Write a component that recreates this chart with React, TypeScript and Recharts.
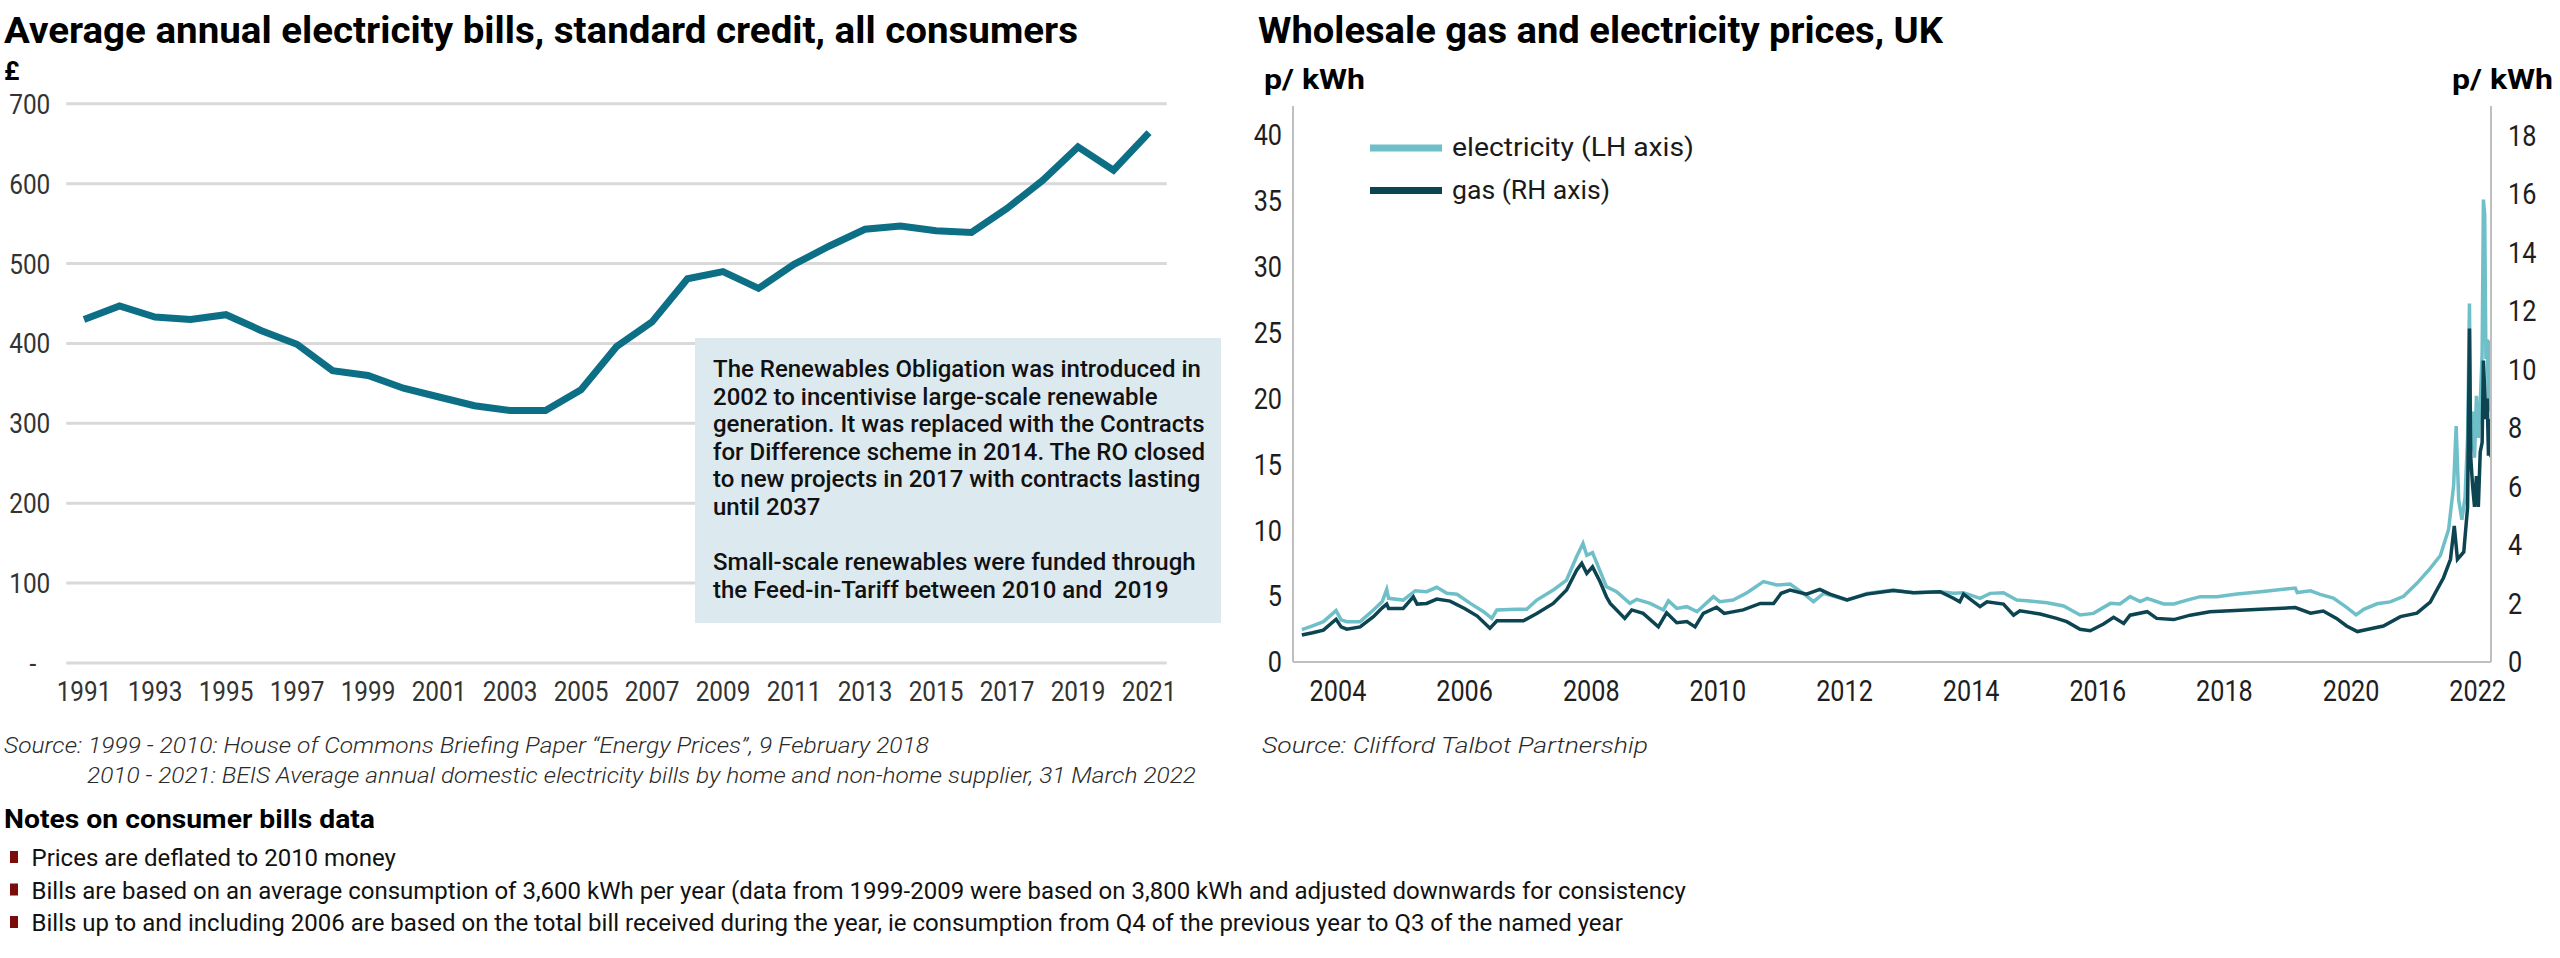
import React from 'react';
import { LineChart, Line, XAxis, YAxis, CartesianGrid, Legend } from 'recharts';

// ---------- Average annual electricity bills (£, 2010 money) ----------
const billYears = [
  1991, 1992, 1993, 1994, 1995, 1996, 1997, 1998, 1999, 2000, 2001, 2002, 2003, 2004, 2005, 2006,
  2007, 2008, 2009, 2010, 2011, 2012, 2013, 2014, 2015, 2016, 2017, 2018, 2019, 2020, 2021,
];
const billValues = [
  430, 447, 433, 430, 436, 416, 399, 366, 360, 344, 333, 322, 316, 316, 342, 396,
  427, 481, 490, 469, 499, 522, 543, 547, 541, 539, 569, 604, 646, 617, 664,
];
const billYTicks = [0, 100, 200, 300, 400, 500, 600, 700];
const billXTicks = [1991, 1993, 1995, 1997, 1999, 2001, 2003, 2005, 2007, 2009, 2011, 2013, 2015, 2017, 2019, 2021];

// ---------- Wholesale prices (p/kWh) ----------
const elecTimes = [
  2003.43, 2003.6, 2003.77, 2003.97, 2004.05, 2004.14, 2004.35, 2004.56, 2004.7, 2004.77, 2004.8,
  2005.03, 2005.22, 2005.4, 2005.56, 2005.72, 2005.88, 2006.09, 2006.3, 2006.43, 2006.51, 2006.82,
  2006.98, 2007.14, 2007.4, 2007.61, 2007.77, 2007.87, 2007.93, 2008.02, 2008.14, 2008.24, 2008.4,
  2008.61, 2008.72, 2008.93, 2009.14, 2009.22, 2009.35, 2009.51, 2009.67, 2009.93, 2010.03, 2010.24,
  2010.46, 2010.72, 2010.93, 2011.14, 2011.35, 2011.51, 2011.67, 2012.04, 2012.35, 2012.77, 2013.09,
  2013.51, 2013.72, 2013.88, 2014.14, 2014.3, 2014.51, 2014.72, 2014.93, 2015.2, 2015.46, 2015.72,
  2015.93, 2016.2, 2016.35, 2016.51, 2016.67, 2016.78, 2017.04, 2017.2, 2017.41, 2017.62, 2017.88,
  2018.2, 2018.57, 2019.12, 2019.15, 2019.36, 2019.51, 2019.72, 2019.93, 2020.08, 2020.2, 2020.41,
  2020.62, 2020.83, 2021.04, 2021.25, 2021.41, 2021.54, 2021.62, 2021.66, 2021.7, 2021.75, 2021.8,
  2021.84, 2021.87, 2021.89, 2021.92, 2021.95, 2021.98, 2022.01, 2022.04, 2022.07, 2022.09, 2022.11,
  2022.13, 2022.15, 2022.17, 2022.19, 2022.21,
];
const elecPrices = [
  2.45, 2.75, 3.06, 3.9, 3.2, 3.06, 3.06, 3.95, 4.6, 5.5, 4.83,
  4.7, 5.41, 5.34, 5.67, 5.21, 5.14, 4.45, 3.82, 3.31, 3.95, 4.0,
  4.0, 4.7, 5.46, 6.22, 8.0, 9.0, 8.1, 8.3, 6.9, 5.72, 5.34,
  4.45, 4.76, 4.45, 3.95, 4.65, 4.07, 4.2, 3.82, 4.96, 4.58, 4.7,
  5.26, 6.1, 5.84, 5.92, 5.21, 4.58, 5.21, 4.7, 5.21, 5.46, 5.26,
  5.34, 5.21, 5.26, 4.83, 5.21, 5.26, 4.7, 4.63, 4.5, 4.25, 3.57,
  3.69, 4.45, 4.4, 4.96, 4.58, 4.83, 4.4, 4.4, 4.7, 4.96, 4.96,
  5.16, 5.34, 5.61, 5.27, 5.4, 5.13, 4.85, 4.15, 3.58, 4.0, 4.42,
  4.56, 4.99, 5.97, 7.1, 8.08, 10.05, 13.4, 17.9, 12.3, 10.8, 12.5,
  17.0, 27.2, 16.0, 19.0, 15.5, 20.2, 17.0, 19.6, 23.4, 35.1, 34.0,
  23.0, 24.5, 19.2, 24.4, 19.0,
];

const gasTimes = [
  2003.43, 2003.6, 2003.77, 2003.97, 2004.05, 2004.14, 2004.35, 2004.56, 2004.7, 2004.77, 2004.8,
  2005.03, 2005.19, 2005.25, 2005.4, 2005.56, 2005.77, 2006.0, 2006.2, 2006.4, 2006.51, 2006.93,
  2007.14, 2007.4, 2007.61, 2007.77, 2007.85, 2007.93, 2008.02, 2008.14, 2008.24, 2008.3, 2008.53,
  2008.64, 2008.82, 2009.06, 2009.19, 2009.35, 2009.51, 2009.64, 2009.77, 2009.98, 2010.1, 2010.4,
  2010.67, 2010.88, 2011.0, 2011.14, 2011.4, 2011.61, 2011.77, 2012.04, 2012.35, 2012.77, 2013.09,
  2013.51, 2013.72, 2013.82, 2013.88, 2014.14, 2014.25, 2014.51, 2014.67, 2014.77, 2015.09, 2015.35,
  2015.51, 2015.72, 2015.88, 2016.09, 2016.25, 2016.41, 2016.51, 2016.78, 2016.93, 2017.2, 2017.46,
  2017.77, 2018.09, 2018.57, 2019.12, 2019.36, 2019.56, 2019.77, 2019.93, 2020.1, 2020.25, 2020.51,
  2020.78, 2021.04, 2021.25, 2021.46, 2021.57, 2021.63, 2021.68, 2021.78, 2021.84, 2021.87, 2021.89,
  2021.92, 2021.95, 2021.98, 2022.01, 2022.04, 2022.07, 2022.09, 2022.11, 2022.13, 2022.15, 2022.17,
  2022.19, 2022.21,
];
const gasPrices = [
  0.92, 1.0, 1.09, 1.46, 1.2, 1.12, 1.2, 1.55, 1.85, 1.98, 1.83,
  1.83, 2.23, 1.98, 2.0, 2.15, 2.08, 1.83, 1.57, 1.15, 1.41, 1.41,
  1.66, 2.0, 2.46, 3.14, 3.37, 3.03, 3.25, 2.74, 2.23, 2.0, 1.49,
  1.78, 1.66, 1.2, 1.68, 1.34, 1.38, 1.2, 1.66, 1.87, 1.66, 1.78,
  2.0, 2.0, 2.35, 2.46, 2.32, 2.48, 2.32, 2.12, 2.32, 2.44, 2.37,
  2.4, 2.18, 2.06, 2.32, 1.89, 2.06, 1.98, 1.6, 1.75, 1.64, 1.49,
  1.38, 1.12, 1.07, 1.3, 1.53, 1.32, 1.6, 1.72, 1.49, 1.45, 1.6,
  1.72, 1.75, 1.8, 1.86, 1.67, 1.74, 1.49, 1.23, 1.04, 1.11, 1.23,
  1.55, 1.67, 2.05, 2.88, 3.51, 4.65, 3.51, 3.76, 5.28, 11.4, 7.0,
  6.0, 5.3, 6.35, 5.3, 7.18, 7.5, 10.3, 9.3, 8.3, 9.0, 7.05,
  8.3, 7.0,
];
const priceXTicks = [2004, 2006, 2008, 2010, 2012, 2014, 2016, 2018, 2020, 2022];
const elecAxisTicks = [0, 5, 10, 15, 20, 25, 30, 35, 40];
const gasAxisTicks = [0, 2, 4, 6, 8, 10, 12, 14, 16, 18];

// ---------- Text ----------
const noteBoxLines = [
  'The Renewables Obligation was introduced in',
  '2002 to incentivise large-scale renewable',
  'generation. It was replaced with the Contracts',
  'for Difference scheme in 2014. The RO closed',
  'to new projects in 2017 with contracts lasting',
  'until 2037',
  '',
  'Small-scale renewables were funded through',
  'the Feed-in-Tariff between 2010 and  2019',
];
const billNotes = [
  'Prices are deflated to 2010 money',
  'Bills are based on an average consumption of 3,600 kWh per year (data from 1999-2009 were based on 3,800 kWh and adjusted downwards for consistency',
  'Bills up to and including 2006 are based on the total bill received during the year, ie consumption from Q4 of the previous year to Q3 of the named year',
];

const FONT = "Roboto, 'DejaVu Sans', sans-serif";
const BILL_COLOR = '#0c6f86';
const ELEC_COLOR = '#6fbfc9';
const GAS_COLOR = '#0d4452';
const GRID = '#d9d9d9';
const AXIS = '#bfbfbf';

const billRows = billYears.map((year, i) => ({ year, bill: billValues[i] }));

const priceTimes = Array.from(new Set([...elecTimes, ...gasTimes])).sort((a, b) => a - b);
const priceRows = priceTimes.map((t) => {
  const ei = elecTimes.indexOf(t);
  const gi = gasTimes.indexOf(t);
  return { t, elec: ei >= 0 ? elecPrices[ei] : null, gas: gi >= 0 ? gasPrices[gi] : null };
});

type TickProps = {
  x?: number;
  y?: number;
  payload?: { value: number };
  anchor: 'start' | 'middle' | 'end';
  top?: boolean;
  size: number;
  color: string;
  dash0?: boolean;
};

// Axis label in a slightly narrowed face
function NarrowTick({ x = 0, y = 0, payload, anchor, top, size, color, dash0 }: TickProps) {
  const v = payload ? payload.value : 0;
  const label = dash0 && v === 0 ? '-' : String(v);
  const dx = dash0 && v === 0 ? -16 : 0;
  const dy = top ? size * 0.71 : size * 0.355;
  return (
    <g transform={`translate(${x},${y}) scale(0.87,1)`}>
      <text x={dx} y={dy} textAnchor={anchor} fontSize={size} fill={color} fontFamily={FONT}>
        {label}
      </text>
    </g>
  );
}

function PriceLegend() {
  return (
    <svg width={420} height={90} style={{ display: 'block' }}>
      <line x1={0} x2={72} y1={22} y2={22} stroke={ELEC_COLOR} strokeWidth={7} />
      <text x={82} y={30} fontSize={26} fontFamily={FONT} fill="#1a1a1a" textLength={242} lengthAdjust="spacingAndGlyphs">
        electricity (LH axis)
      </text>
      <line x1={0} x2={72} y1={64.5} y2={64.5} stroke={GAS_COLOR} strokeWidth={7} />
      <text x={82} y={72.5} fontSize={26} fontFamily={FONT} fill="#1a1a1a" textLength={158} lengthAdjust="spacingAndGlyphs">
        gas (RH axis)
      </text>
    </svg>
  );
}

export default function App() {
  return (
    <div
      style={{
        position: 'absolute',
        left: 0,
        top: 0,
        width: 2560,
        height: 958,
        background: '#ffffff',
        fontFamily: FONT,
        overflow: 'hidden',
      }}
    >
      {/* Consumer bills */}
      <div style={{ position: 'absolute', left: 0, top: 0 }}>
        <LineChart
          width={1200}
          height={720}
          data={billRows}
          margin={{ top: 103.8, right: 33.25, bottom: 7, left: 6.25 }}
        >
          <CartesianGrid horizontal vertical={false} stroke={GRID} strokeWidth={3} />
          <XAxis
            dataKey="year"
            type="number"
            domain={[1990.5, 2021.5]}
            ticks={billXTicks}
            interval={0}
            axisLine={false}
            tickLine={false}
            tickSize={0}
            tickMargin={18}
            height={50}
            tick={(p: any) => <NarrowTick {...p} anchor="middle" top size={28} color="#333333" />}
          />
          <YAxis
            type="number"
            domain={[0, 700]}
            ticks={billYTicks}
            interval={0}
            axisLine={false}
            tickLine={false}
            tickSize={0}
            tickMargin={16}
            width={60}
            tick={(p: any) => <NarrowTick {...p} anchor="end" size={28} color="#333333" dash0 />}
          />
          <Line
            type="linear"
            dataKey="bill"
            stroke={BILL_COLOR}
            strokeWidth={7}
            dot={false}
            strokeLinejoin="miter"
            isAnimationActive={false}
          />
        </LineChart>
      </div>

      {/* Wholesale prices */}
      <div style={{ position: 'absolute', left: 1240, top: 0 }}>
        <LineChart
          width={1320}
          height={720}
          data={priceRows}
          margin={{ top: 106, right: 9, bottom: 8, left: 3 }}
        >
          <XAxis
            dataKey="t"
            type="number"
            domain={[2003.29, 2022.21]}
            allowDataOverflow
            ticks={priceXTicks}
            interval={0}
            axisLine={{ stroke: AXIS, strokeWidth: 2 }}
            tickLine={false}
            tickSize={0}
            tickMargin={18}
            height={50}
            tick={(p: any) => <NarrowTick {...p} anchor="middle" top size={29} color="#1e1e1e" />}
          />
          <YAxis
            yAxisId="L"
            orientation="left"
            type="number"
            domain={[0, 42.2]}
            allowDataOverflow
            ticks={elecAxisTicks}
            interval={0}
            axisLine={{ stroke: AXIS, strokeWidth: 2 }}
            tickLine={false}
            tickSize={0}
            tickMargin={11}
            width={50}
            tick={(p: any) => <NarrowTick {...p} anchor="end" size={29} color="#1e1e1e" />}
          />
          <YAxis
            yAxisId="R"
            orientation="right"
            type="number"
            domain={[0, 19]}
            allowDataOverflow
            ticks={gasAxisTicks}
            interval={0}
            axisLine={{ stroke: AXIS, strokeWidth: 2 }}
            tickLine={false}
            tickSize={0}
            tickMargin={17}
            width={60}
            tick={(p: any) => <NarrowTick {...p} anchor="start" size={29} color="#1e1e1e" />}
          />
          <Legend
            layout="horizontal"
            verticalAlign="middle"
            align="center"
            content={() => <PriceLegend />}
            wrapperStyle={{ position: 'absolute', left: 130, top: 126, width: 420, height: 90 }}
          />
          <Line
            yAxisId="L"
            type="linear"
            dataKey="elec"
            name="electricity (LH axis)"
            stroke={ELEC_COLOR}
            strokeWidth={3.5}
            dot={false}
            connectNulls
            isAnimationActive={false}
          />
          <Line
            yAxisId="R"
            type="linear"
            dataKey="gas"
            name="gas (RH axis)"
            stroke={GAS_COLOR}
            strokeWidth={3.5}
            dot={false}
            connectNulls
            isAnimationActive={false}
          />
        </LineChart>
      </div>

      {/* Titles, notes and sources */}
      <svg
        width={2560}
        height={958}
        style={{ position: 'absolute', left: 0, top: 0, pointerEvents: 'none' }}
        fontFamily={FONT}
      >
        <text x={4} y={43} fontSize={37} fontWeight={700} fill="#000" textLength={1074} lengthAdjust="spacingAndGlyphs">
          Average annual electricity bills, standard credit, all consumers
        </text>
        <text x={4} y={80} fontSize={26} fontWeight={700} fill="#000">
          £
        </text>

        <text x={1258} y={43} fontSize={37} fontWeight={700} fill="#000" textLength={685} lengthAdjust="spacingAndGlyphs">
          Wholesale gas and electricity prices, UK
        </text>
        <text x={1264} y={89} fontSize={27} fontWeight={700} fill="#000" textLength={101} lengthAdjust="spacingAndGlyphs">
          p/ kWh
        </text>
        <text x={2452} y={89} fontSize={27} fontWeight={700} fill="#000" textLength={101} lengthAdjust="spacingAndGlyphs">
          p/ kWh
        </text>

        <rect x={695} y={338} width={526} height={285} fill="#dce9ef" />
        {noteBoxLines.map((line, i) =>
          line ? (
            <text
              key={i}
              x={713}
              y={377 + i * 27.6}
              fontSize={24}
              fontWeight={500}
              fill="#111"
              style={{ whiteSpace: 'pre' }}
            >
              {line}
            </text>
          ) : null
        )}

        <text x={4} y={753} fontSize={22.5} fontStyle="italic" fontWeight={300} fill="#2a2a2a" textLength={925} lengthAdjust="spacingAndGlyphs">
          Source: 1999 - 2010: House of Commons Briefing Paper “Energy Prices”, 9 February 2018
        </text>
        <text x={87} y={783} fontSize={22.5} fontStyle="italic" fontWeight={300} fill="#2a2a2a" textLength={1109} lengthAdjust="spacingAndGlyphs">
          2010 - 2021: BEIS Average annual domestic electricity bills by home and non-home supplier, 31 March 2022
        </text>
        <text x={1262} y={753} fontSize={22.5} fontStyle="italic" fontWeight={300} fill="#2a2a2a" textLength={386} lengthAdjust="spacingAndGlyphs">
          Source: Clifford Talbot Partnership
        </text>

        <text x={4} y={828} fontSize={26} fontWeight={700} fill="#000" textLength={371} lengthAdjust="spacingAndGlyphs">
          Notes on consumer bills data
        </text>
        {billNotes.map((note, i) => (
          <g key={i}>
            <rect x={10} y={851 + i * 32.5} width={8} height={12} fill="#7a0c0c" />
            <text x={31.5} y={866 + i * 32.5} fontSize={24} fill="#111">
              {note}
            </text>
          </g>
        ))}
      </svg>
    </div>
  );
}
